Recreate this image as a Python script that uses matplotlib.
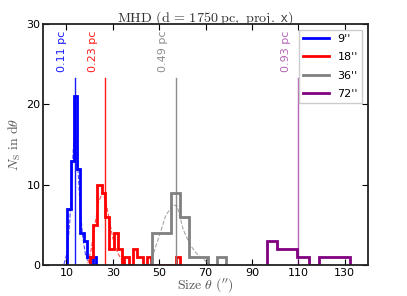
import matplotlib

matplotlib.use("Agg")
from matplotlib import pyplot as plt
from matplotlib import font_manager

# histogram outlines (bin edges in arcsec, counts)
blue_edges = [10.1, 11.8, 13.3, 14.7, 16.1, 17.6, 19.0, 20.4, 21.7, 23.0]
blue_counts = [7, 13, 21, 12, 4, 3, 1, 0, 1]
red_edges = [20.1, 21.4, 23.3, 25.3, 26.8, 28.6, 30.4, 32.4, 33.8, 35.0, 37.0,
             38.8, 40.6, 42.9, 44.9, 46.5, 57.4, 59.0]
red_counts = [1, 5, 10, 9, 6, 2, 4, 2, 0, 1, 0, 2, 1, 0, 1, 0, 1]
gray_edges = [47.0, 51.0, 55.0, 59.0, 63.0, 67.0, 71.0, 75.0, 79.0]
gray_counts = [4, 4, 9, 6, 1, 1, 0, 1]
purple_edges = [96.4, 100.7, 105.0, 109.5, 114.4, 118.7, 123.2, 127.6, 132.1]
purple_counts = [3, 2, 2, 1, 0, 1, 1, 1]

# dashed fit curves
blue_fit_x = [9.0, 10.4, 11.5, 12.5, 13.7, 14.8, 15.9, 17.0, 18.3, 19.5]
blue_fit_y = [0.1, 1.6, 5.5, 12.0, 17.7, 13.0, 7.5, 3.6, 1.2, 0.3]
red_fit_x = [19.3, 20.7, 22.1, 23.9, 25.5, 27.0, 27.8, 30.0, 32.1, 34.7]
red_fit_y = [0.2, 1.9, 4.6, 7.8, 9.0, 8.0, 6.7, 3.4, 1.5, 0.25]
gray_fit_x = [46.1, 48.3, 50.4, 52.9, 56.1, 57.8, 60.4, 63.3, 66.8, 70.4, 71.9]
gray_fit_y = [0.1, 2.1, 3.9, 6.2, 7.5, 7.3, 4.4, 2.5, 1.2, 0.4, 0.1]

beam_labels = ["9''", "18''", "36''", "72''"]
median_sizes = [13.6, 26.8, 57.3, 110.0]
size_pc = ["0.11 pc", "0.23 pc", "0.49 pc", "0.93 pc"]
colors = ["blue", "red", "gray", "purple"]

installed = {f.name for f in font_manager.fontManager.ttflist}
tick_font = "Liberation Sans Narrow" if "Liberation Sans Narrow" in installed else "DejaVu Sans"

plt.rcParams["mathtext.fontset"] = "cm"

fig = plt.figure(figsize=(4.07, 2.96), dpi=100)
ax = fig.add_axes([0.106, 0.105, 0.798, 0.814])

hists = [(blue_edges, blue_counts), (red_edges, red_counts),
         (gray_edges, gray_counts), (purple_edges, purple_counts)]
for (edges, counts), color, label in zip(hists, colors, beam_labels):
    ax.stairs(counts, edges, color=color, lw=2, label=label)

for fx, fy, color in [(blue_fit_x, blue_fit_y, "blue"), (red_fit_x, red_fit_y, "red"),
                      (gray_fit_x, gray_fit_y, "gray")]:
    ax.plot(fx, fy, ls="--", lw=0.8, color=color, alpha=0.7)

for size, text, color in zip(median_sizes, size_pc, colors):
    alpha = 0.6 if color == "purple" else 0.9
    ax.axvline(size, ymin=0, ymax=0.775, color=color, lw=1, alpha=alpha)
    ax.text(size - 5.5, 24, text, rotation=90, ha="center", va="bottom",
            fontsize=8, color=color, alpha=alpha)

ax.set_xlim(0, 140)
ax.set_ylim(0, 30)
ax.set_xticks([10, 30, 50, 70, 90, 110, 130])
ax.set_yticks([0, 10, 20, 30])
ax.tick_params(direction="in", length=4, labelsize=8, pad=2, top=True, right=True)
for lab in ax.get_xticklabels() + ax.get_yticklabels():
    lab.set_family(tick_font)
for spine in ax.spines.values():
    spine.set_linewidth(1.3)
    spine.set_color("#222222")

ax.set_title(r"$\mathrm{MHD\ (d\,=\,1750\;pc,\ proj.\ }\mathsf{x}\mathrm{)}$",
             fontsize=10.2, color="#333333", pad=2)
ax.set_xlabel(r"$\mathrm{Size}\ \theta\ (^{\prime\prime})$", fontsize=10,
              color="#555555", labelpad=-1)
ax.set_ylabel(r"$N_{\mathrm{S}}\ \mathrm{in\ d}\theta$", fontsize=10,
              color="#555555", labelpad=2)

ax.legend(loc="upper right", prop={"family": tick_font, "size": 8},
          handlelength=2.3, labelspacing=0.75, fancybox=False, framealpha=1,
          borderaxespad=0.5)

fig.savefig("out.png", dpi=100)
